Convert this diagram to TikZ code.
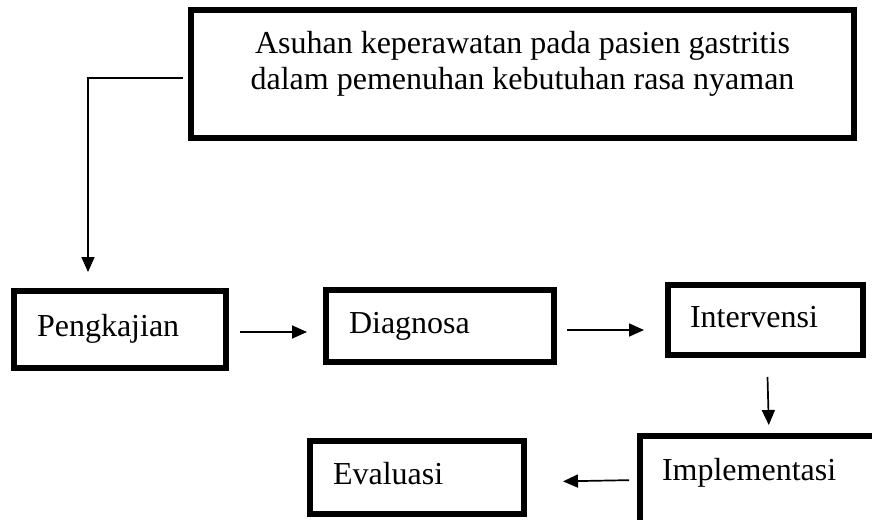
\documentclass[tikz,border=0pt]{standalone}
\usepackage{fontspec}
\setmainfont{Liberation Serif}
\usetikzlibrary{arrows.meta}

\begin{document}
\begin{tikzpicture}[x=1pt, y=-1pt, >={Triangle[length=15pt, width=13pt]},
        font=\fontsize{32pt}{36pt}\selectfont,
        kotak/.style={draw, line width=6pt, inner xsep=23pt, inner ysep=0pt, align=left, text height=22pt, text depth=8pt},
        panah/.style={->, line width=1.7pt}]
        % --- Batas gambar ---
        \useasboundingbox (0,0) rectangle (872,519);

        % --- Kotak judul ---
        \node[draw, line width=6pt, minimum width=663pt, minimum height=128pt, align=center, text height=58pt, text depth=28pt] (judul) at (522.5,74)
            {Asuhan keperawatan pada pasien gastritis\\dalam pemenuhan kebutuhan rasa nyaman};

        % --- Tahapan proses keperawatan ---
        \node[kotak, text width=166pt, minimum height=77pt] (pengkajian) at (120,329.5) {Pengkajian};
        \node[kotak, text width=182pt, minimum height=72pt] (diagnosa) at (440,326) {Diagnosa};
        \node[kotak, text width=151pt, inner xsep=22pt, minimum height=70pt] (intervensi) at (765.5,320) {Intervensi};
        \node[kotak, text width=168pt, minimum height=73pt] (evaluasi) at (417,477.5) {Evaluasi};
        \begin{scope}
            \clip (0,0) rectangle (872,519);
            \node[kotak, text width=216pt, inner xsep=22pt, minimum height=88pt, text depth=22pt] (implementasi) at (770,480) {Implementasi};
        \end{scope}

        % --- Panah alur ---
        \draw[panah, shorten <=5pt, shorten >=16pt] (judul.west |- 0,78) -| (pengkajian.north -| 88,0);
        \draw[panah, shorten <=11pt, shorten >=16pt] (pengkajian.east |- 0,332) -- (diagnosa.west |- 0,332);
        \draw[panah, shorten <=10pt, shorten >=21pt] (diagnosa.east |- 0,330) -- (intervensi.west |- 0,330);
        \draw[panah, shorten <=19pt, shorten >=8pt] (767,0 |- intervensi.south) -- (769,0 |- implementasi.north);
        \draw[panah, shorten <=8pt, shorten >=36pt] (implementasi.west |- 0,480) -- (evaluasi.east |- 0,482);
\end{tikzpicture}
\end{document}
